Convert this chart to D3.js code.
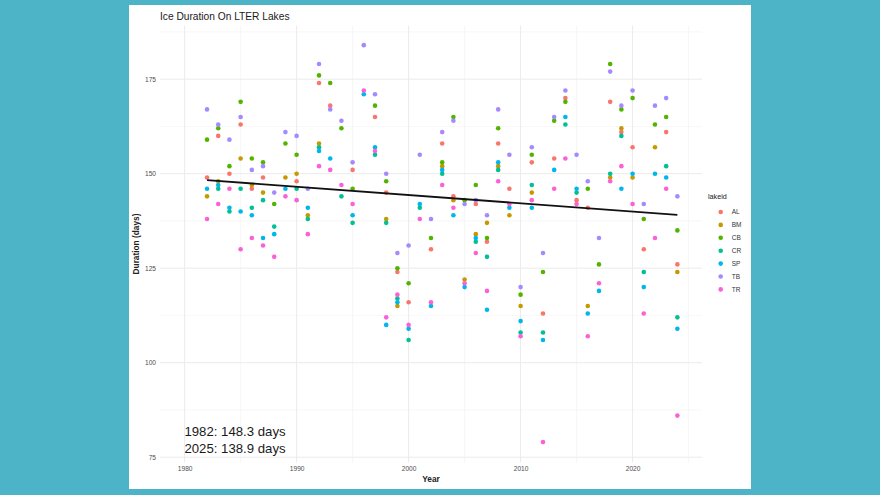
<!DOCTYPE html>
<html>
<head>
<meta charset="utf-8">
<script src="https://cdn.jsdelivr.net/npm/d3@7"></script>
<style>
  body { margin: 0; background: #4db3c7; }
  svg { display: block; font-family: "Liberation Sans", Arial, sans-serif; }
</style>
</head>
<body>
<div id="chart"></div>
<script>
// Anos e duração do gelo (dias) por lago
const years = [1982, 1983, 1984, 1985, 1986, 1987, 1988, 1989, 1990, 1991, 1992, 1993, 1994, 1995, 1996,
  1997, 1998, 1999, 2000, 2001, 2002, 2003, 2004, 2005, 2006, 2007, 2008, 2009, 2010, 2011, 2012, 2013,
  2014, 2015, 2016, 2017, 2018, 2019, 2020, 2021, 2022, 2023, 2024];

const lakes = ["AL", "BM", "CB", "CR", "SP", "TB", "TR"];
const lakeColors = ["#F8766D", "#C49A00", "#53B400", "#00C094", "#00B6EB", "#A58AFF", "#FB61D7"];

const AL = [149, 160, 150, 163, 146, 149, null, null, 148, null, 174, 168, null, 151, null, 165, 145, 124, 116, null, 130, 158,
  144, null, 142, 132, 158, 146, null, 153, 113, 154, 170, 143, 141, null, 169, 161, 157, 130, null, 161, 126];
const BM = [144, 148, null, 154, 147, 145, null, 149, 150, 139, 158, null, null, null, null, null, 138, 115, null, null, null, 152,
  143, 122, 134, 137, 152, 139, 115, 145, null, null, null, null, 115, null, 149, 162, 149, null, 157, null, 124];
const CB = [159, 162, 152, 169, 154, 153, 142, 158, 155, null, 176, 174, 162, 146, null, 168, 148, 125, 121, null, 133, 153,
  165, 143, 147, 133, 162, null, 118, 155, 124, 164, 169, null, 146, 126, 179, 167, 170, 138, 163, 165, 135];
const CR = [null, 146, 140, 146, 141, 143, 136, null, 146, 138, 157, null, 144, 137, null, 155, 137, 117, 106, 141, null, 150,
  null, null, 132, 128, 151, null, 108, 147, 108, null, 163, 145, null, null, 150, 160, null, 124, null, 152, 112];
const SP = [146, 147, 141, 140, 139, 133, 134, 146, null, 141, 156, 154, null, 139, 171, 157, 110, 116, 109, 142, 115, 151,
  139, 120, 133, 114, 153, 141, 111, 141, 106, 151, 165, 146, 113, 119, null, 146, 150, 120, 150, 149, 109];
const TB = [167, 163, 159, 165, 151, 152, 145, 161, 160, 146, 179, 167, 164, 153, 184, 171, 150, 129, 131, 155, 138, 161,
  164, 142, 143, 139, 167, 155, 120, 157, 129, 165, 172, 155, 148, 133, 177, 168, 172, 142, 168, 170, 144];
const TR = [138, 142, 146, 130, 133, 131, 128, 144, 143, 134, 152, 151, 147, 142, 172, 156, 112, 118, 110, 138, 116, 147,
  141, 121, 129, 119, 148, 142, 107, 143, 79, 146, 154, 142, 107, 121, 148, 152, 142, 113, 133, 146, 86];

const lakeValues = [AL, BM, CB, CR, SP, TB, TR];

// Linha de tendência (ajuste linear)
const trendYears = [1982, 2024];
const trendDays = [148.3, 139.1];
const annotations = ["1982: 148.3 days", "2025: 138.9 days"];

// Ticks
const xTicks = [1980, 1990, 2000, 2010, 2020];
const xMinor = [1985, 1995, 2005, 2015, 2025];
const yTicks = [75, 100, 125, 150, 175];
const yMinor = [87.5, 112.5, 137.5, 162.5, 187.5];

const W = 880, H = 495;
const plot = { left: 160, right: 702, top: 25.5, bottom: 462.5 };

const svg = d3.select("#chart").append("svg")
  .attr("width", W)
  .attr("height", H);

// Painel branco
svg.append("rect")
  .attr("x", 129).attr("y", 5)
  .attr("width", 622).attr("height", 484)
  .attr("fill", "#ffffff");

const x = d3.scaleLinear().domain([1977.8, 2026.2]).range([plot.left, plot.right]);
const y = d3.scaleLinear().domain([73.6, 189.2]).range([plot.bottom, plot.top]);

// Grade
const grid = svg.append("g");
grid.selectAll(".ymin").data(yMinor).join("line")
  .attr("x1", plot.left).attr("x2", plot.right)
  .attr("y1", d => y(d)).attr("y2", d => y(d))
  .attr("stroke", "#efefef").attr("stroke-width", 0.5);
grid.selectAll(".xmin").data(xMinor).join("line")
  .attr("y1", plot.top).attr("y2", plot.bottom)
  .attr("x1", d => x(d)).attr("x2", d => x(d))
  .attr("stroke", "#efefef").attr("stroke-width", 0.5);
grid.selectAll(".ymaj").data(yTicks).join("line")
  .attr("x1", plot.left).attr("x2", plot.right)
  .attr("y1", d => y(d)).attr("y2", d => y(d))
  .attr("stroke", "#ebebeb").attr("stroke-width", 1);
grid.selectAll(".xmaj").data(xTicks).join("line")
  .attr("y1", plot.top).attr("y2", plot.bottom)
  .attr("x1", d => x(d)).attr("x2", d => x(d))
  .attr("stroke", "#ebebeb").attr("stroke-width", 1);

// Eixos (só rótulos, sem linha)
const xAxis = svg.append("g")
  .attr("transform", `translate(0,${plot.bottom})`)
  .call(d3.axisBottom(x).tickValues(xTicks).tickFormat(d3.format("d")).tickSize(0).tickPadding(4));
const yAxis = svg.append("g")
  .attr("transform", `translate(${plot.left},0)`)
  .call(d3.axisLeft(y).tickValues(yTicks).tickSize(0).tickPadding(4));
[xAxis, yAxis].forEach(a => {
  a.select(".domain").remove();
  a.selectAll("text").attr("fill", "#4d4d4d").style("font-size", "6.6px");
});

// Pontos
lakes.forEach((lake, li) => {
  const pts = years.map((yr, i) => ({ year: yr, days: lakeValues[li][i] })).filter(d => d.days !== null);
  svg.append("g").selectAll("circle")
    .data(pts)
    .join("circle")
    .attr("cx", d => x(d.year))
    .attr("cy", d => y(d.days))
    .attr("r", 2.3)
    .attr("fill", lakeColors[li]);
});

// Tendência
svg.append("path")
  .datum(trendYears.map((yr, i) => [yr, trendDays[i]]))
  .attr("d", d3.line().x(d => x(d[0])).y(d => y(d[1])))
  .attr("fill", "none")
  .attr("stroke", "#111")
  .attr("stroke-width", 1.9);

// Anotações
svg.selectAll(".ann").data(annotations).join("text")
  .attr("x", 235)
  .attr("y", (d, i) => 435.5 + i * 17.6)
  .attr("text-anchor", "middle")
  .style("font-size", "13.2px")
  .attr("fill", "#1a1a1a")
  .text(d => d);

// Títulos
svg.append("text")
  .attr("x", 160).attr("y", 19.5)
  .style("font-size", "10.2px")
  .attr("fill", "#1a1a1a")
  .text("Ice Duration On LTER Lakes");

svg.append("text")
  .attr("x", (plot.left + plot.right) / 2).attr("y", 482)
  .attr("text-anchor", "middle")
  .style("font-size", "8.3px")
  .style("font-weight", "bold")
  .attr("fill", "#222")
  .text("Year");

svg.append("text")
  .attr("transform", `translate(139,${(plot.top + plot.bottom) / 2}) rotate(-90)`)
  .attr("text-anchor", "middle")
  .style("font-size", "8.3px")
  .style("font-weight", "bold")
  .attr("fill", "#222")
  .text("Duration (days)");

// Legenda
const legend = svg.append("g");
legend.append("text")
  .attr("x", 708).attr("y", 198.5)
  .style("font-size", "7.2px")
  .attr("fill", "#1a1a1a")
  .text("lakeid");
const items = legend.selectAll(".item").data(lakes).join("g")
  .attr("transform", (d, i) => `translate(720.7,${212 + i * 12.9})`);
items.append("circle").attr("r", 2.3).attr("fill", (d, i) => lakeColors[i]);
items.append("text")
  .attr("x", 11).attr("y", 2.3)
  .style("font-size", "6.5px")
  .attr("fill", "#333")
  .text(d => d);
</script>
</body>
</html>
